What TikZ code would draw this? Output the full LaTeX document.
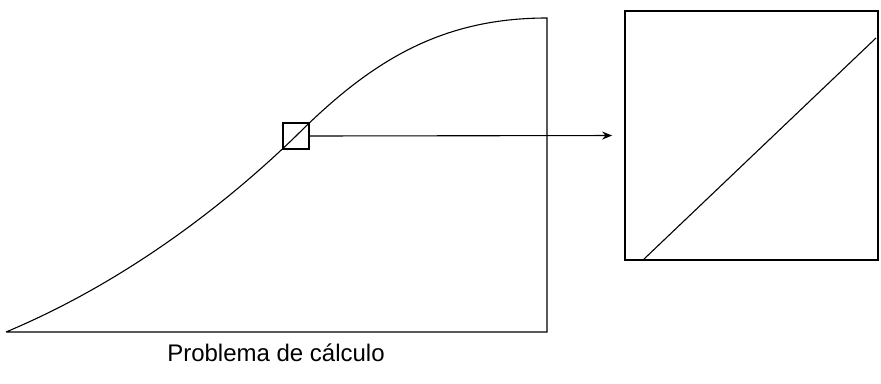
\documentclass[tikz,border=0pt]{standalone}
\usepackage{fontspec}
\setmainfont{Liberation Sans}
\usetikzlibrary{arrows.meta}
\begin{document}
\begin{tikzpicture}[x=1pt,y=-1pt,
  curveline/.style={line width=1.1pt},
  frame/.style={draw,line width=1.7pt,inner sep=0pt}]
  \useasboundingbox (0,0) rectangle (881,383);
  % the region under the curve
  \coordinate (o) at (6,332);
  \coordinate (c) at (547,332);
  \coordinate (t) at (547,18);
  \node[frame,minimum size=26pt] (zoom) at (296,136) {};
  \draw[curveline] (o) .. controls (130,280) and (230,200) .. (zoom.center)
    .. controls (370,62) and (440,18) .. (t) -- (c) -- (o);
  \node[anchor=base,font=\fontsize{24}{28}\selectfont] (label) at (276,361) {Problema de cálculo};
  % enlarged piece
  \node[frame,minimum width=253pt,minimum height=249pt] (detail) at (751.5,135.5) {};
  \coordinate (d1) at (643,260);
  \coordinate (d2) at (876,38);
  \draw[curveline] (d1) -- (d2);
  \draw[curveline,-{Stealth[length=10pt,width=8pt]},shorten >=12pt] (zoom.east) -- (detail.west);
\end{tikzpicture}
\end{document}
